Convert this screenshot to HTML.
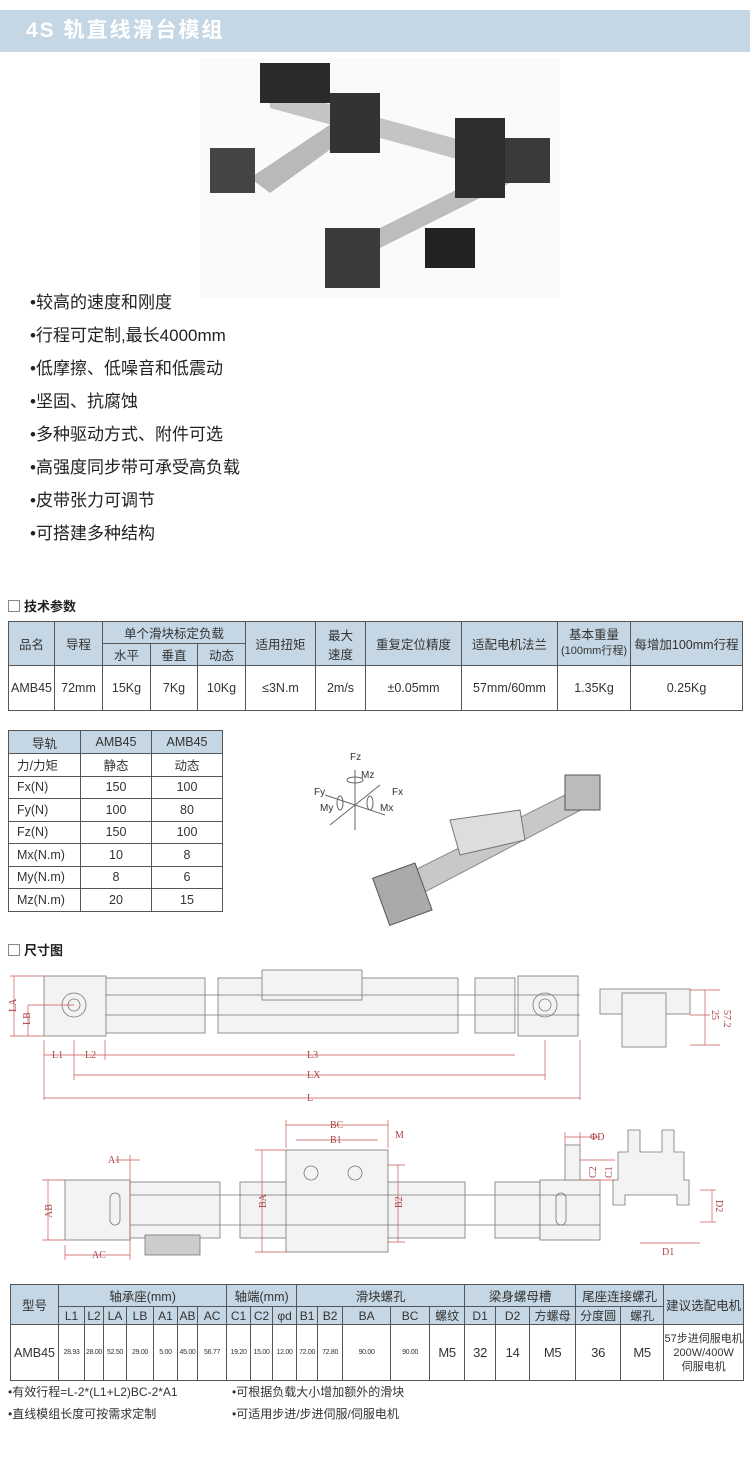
<!DOCTYPE html>
<html><head><meta charset="utf-8"><style>
*{margin:0;padding:0;box-sizing:border-box}
body{width:750px;height:1463px;background:#fff;position:relative;overflow:hidden;font-family:"Liberation Sans","Noto Sans CJK SC",sans-serif;color:#333}
.a{position:absolute}
.hdr{left:0;top:10px;width:750px;height:42px;background:#c5d7e4;color:#fff;font-weight:bold;font-size:21px;line-height:42px;padding-left:26px;letter-spacing:2px}
.bl{left:30px;font-size:17px;color:#222;line-height:20px}
.sec{left:8px;font-size:13px;font-weight:bold;color:#222}
.sec i{display:inline-block;width:12px;height:12px;border:1px solid #888;vertical-align:-1px;margin-right:4px}
table{border-collapse:collapse;position:absolute;table-layout:fixed;font-family:"Liberation Sans","Noto Sans CJK SC",sans-serif}
td{border:1px solid #555;text-align:center;color:#333;padding:0;white-space:nowrap;overflow:hidden}
.h td,td.h{background:#c5d7e4}
</style></head><body>
<div class="a hdr">4S 轨直线滑台模组</div>

<svg class="a" style="left:200px;top:58px" width="360" height="240">
<rect x="0" y="0" width="360" height="240" fill="#fafafa"/>
<polygon points="50,120 140,60 160,70 70,135" fill="#b9b9b9"/>
<polygon points="70,30 290,90 290,110 70,50" fill="#c4c4c4"/>
<polygon points="140,190 320,100 330,115 150,205" fill="#bdbdbd"/>
<rect x="60" y="5" width="70" height="40" fill="#2a2a2a"/>
<rect x="130" y="35" width="50" height="60" fill="#333"/>
<rect x="255" y="60" width="50" height="80" fill="#2e2e2e"/>
<rect x="305" y="80" width="45" height="45" fill="#3a3a3a"/>
<rect x="10" y="90" width="45" height="45" fill="#444"/>
<rect x="125" y="170" width="55" height="60" fill="#3a3a3a"/>
<rect x="225" y="170" width="50" height="40" fill="#222"/>
</svg>

<div class="a bl" style="top:293px">•较高的速度和刚度</div>
<div class="a bl" style="top:326px">•行程可定制,最长4000mm</div>
<div class="a bl" style="top:359px">•低摩擦、低噪音和低震动</div>
<div class="a bl" style="top:392px">•坚固、抗腐蚀</div>
<div class="a bl" style="top:425px">•多种驱动方式、附件可选</div>
<div class="a bl" style="top:458px">•高强度同步带可承受高负载</div>
<div class="a bl" style="top:491px">•皮带张力可调节</div>
<div class="a bl" style="top:524px">•可搭建多种结构</div>

<div class="a sec" style="top:596px"><i></i>技术参数</div>
<table style="left:8px;top:621px;width:734px;font-size:12.5px">
<colgroup><col width="46"><col width="48"><col width="48"><col width="47"><col width="48"><col width="70"><col width="50"><col width="96"><col width="96"><col width="73"><col width="112"></colgroup>
<tr class="h" style="height:22px"><td rowspan="2">品名</td><td rowspan="2">导程</td><td colspan="3">单个滑块标定负载</td><td rowspan="2">适用扭矩</td><td rowspan="2">最大<br>速度</td><td rowspan="2">重复定位精度</td><td rowspan="2">适配电机法兰</td><td rowspan="2" style="line-height:15px">基本重量<br><span style="font-size:11px">(100mm行程)</span></td><td rowspan="2">每增加100mm行程</td></tr>
<tr class="h" style="height:22px"><td>水平</td><td>垂直</td><td>动态</td></tr>
<tr style="height:45px"><td>AMB45</td><td>72mm</td><td>15Kg</td><td>7Kg</td><td>10Kg</td><td>≤3N.m</td><td>2m/s</td><td>±0.05mm</td><td>57mm/60mm</td><td>1.35Kg</td><td>0.25Kg</td></tr>
</table>

<table style="left:8px;top:730px;width:214px;font-size:12.5px">
<colgroup><col width="72"><col width="71"><col width="71"></colgroup>
<tr class="h" style="height:23px"><td>导轨</td><td>AMB45</td><td>AMB45</td></tr>
<tr style="height:22.5px"><td style="text-align:left;padding-left:8px">力/力矩</td><td>静态</td><td>动态</td></tr>
<tr style="height:22.5px"><td style="text-align:left;padding-left:8px">Fx(N)</td><td>150</td><td>100</td></tr>
<tr style="height:22.5px"><td style="text-align:left;padding-left:8px">Fy(N)</td><td>100</td><td>80</td></tr>
<tr style="height:22.5px"><td style="text-align:left;padding-left:8px">Fz(N)</td><td>150</td><td>100</td></tr>
<tr style="height:22.5px"><td style="text-align:left;padding-left:8px">Mx(N.m)</td><td>10</td><td>8</td></tr>
<tr style="height:22.5px"><td style="text-align:left;padding-left:8px">My(N.m)</td><td>8</td><td>6</td></tr>
<tr style="height:22.5px"><td style="text-align:left;padding-left:8px">Mz(N.m)</td><td>20</td><td>15</td></tr>
</table>

<svg class="a" style="left:300px;top:745px" width="320" height="190" font-family="Liberation Sans" font-size="10" fill="#333">
<g stroke="#666" fill="none"><line x1="55" y1="25" x2="55" y2="85"/><line x1="25" y1="50" x2="85" y2="70"/><line x1="30" y1="80" x2="80" y2="40"/><ellipse cx="55" cy="35" rx="8" ry="3"/><ellipse cx="40" cy="58" rx="3" ry="7"/><ellipse cx="70" cy="58" rx="3" ry="7"/></g>
<text x="50" y="15">Fz</text><text x="61" y="33">Mz</text><text x="14" y="50">Fy</text><text x="20" y="66">My</text><text x="92" y="50">Fx</text><text x="80" y="66">Mx</text>
<polygon points="85,140 285,40 300,55 100,160" fill="#c8c8c8" stroke="#888"/>
<polygon points="150,75 220,65 225,95 160,110" fill="#ddd" stroke="#777"/>
<rect x="80" y="125" width="45" height="50" fill="#aaa" stroke="#555" transform="rotate(-20 100 150)"/>
<rect x="265" y="30" width="35" height="35" fill="#bbb" stroke="#555"/>
</svg>

<div class="a sec" style="top:940px"><i></i>尺寸图</div>

<svg class="a" style="left:0;top:960px" width="750" height="300" font-family="Liberation Serif" font-size="10" fill="#a44">
<g fill="#f3f3f3" stroke="#777" stroke-width="0.8">
<rect x="105" y="18" width="100" height="55"/><rect x="218" y="18" width="240" height="55"/><rect x="475" y="18" width="40" height="55"/>
<rect x="262" y="10" width="100" height="30"/>
<rect x="44" y="16" width="62" height="60"/><rect x="518" y="16" width="60" height="60"/>
<rect x="600" y="29" width="90" height="25"/><rect x="622" y="33" width="44" height="54"/>
<rect x="130" y="222" width="90" height="56"/><rect x="240" y="222" width="225" height="56"/><rect x="495" y="222" width="45" height="56"/>
<rect x="65" y="220" width="65" height="60"/><rect x="540" y="220" width="60" height="60"/>
<rect x="286" y="190" width="102" height="102"/>
<rect x="565" y="185" width="15" height="35"/>
<path d="M628,170 h12 v22 h22 v-22 h12 v22 h10 v28 h5 v25 h-12 v-10 h-52 v10 h-12 v-25 h5 v-28 h10z"/>
<rect x="145" y="275" width="55" height="20" fill="#ccc"/>
</g>
<g stroke="#777" fill="none" stroke-width="0.8">
<circle cx="74" cy="45" r="12"/><circle cx="74" cy="45" r="6"/><circle cx="545" cy="45" r="12"/><circle cx="545" cy="45" r="6"/>
<line x1="105" y1="35" x2="580" y2="35"/><line x1="105" y1="55" x2="580" y2="55"/>
<line x1="130" y1="235" x2="600" y2="235"/><line x1="130" y1="265" x2="600" y2="265"/>
<circle cx="311" cy="213" r="7"/><circle cx="355" cy="213" r="7"/>
<rect x="110" y="233" width="10" height="32" rx="5"/><rect x="556" y="233" width="10" height="32" rx="5"/>
</g>
<g stroke="#c55" stroke-width="0.7" fill="none">
<line x1="10" y1="16" x2="44" y2="16"/><line x1="10" y1="76" x2="44" y2="76"/><line x1="14" y1="16" x2="14" y2="76"/><line x1="28" y1="45" x2="28" y2="76"/><line x1="28" y1="45" x2="74" y2="45"/>
<line x1="44" y1="80" x2="44" y2="140"/><line x1="74" y1="80" x2="74" y2="120"/><line x1="105" y1="80" x2="105" y2="100"/><line x1="580" y1="80" x2="580" y2="140"/><line x1="545" y1="80" x2="545" y2="120"/>
<line x1="44" y1="95" x2="105" y2="95"/><line x1="105" y1="95" x2="515" y2="95"/><line x1="74" y1="115" x2="545" y2="115"/><line x1="44" y1="138" x2="580" y2="138"/>
<line x1="690" y1="30" x2="720" y2="30"/><line x1="690" y1="85" x2="720" y2="85"/><line x1="705" y1="30" x2="705" y2="85"/><line x1="690" y1="55" x2="710" y2="55"/>
<line x1="42" y1="220" x2="65" y2="220"/><line x1="42" y1="280" x2="65" y2="280"/><line x1="48" y1="220" x2="48" y2="280"/>
<line x1="65" y1="285" x2="65" y2="300"/><line x1="65" y1="295" x2="130" y2="295"/><line x1="130" y1="195" x2="130" y2="300"/><line x1="115" y1="200" x2="140" y2="200"/>
<line x1="286" y1="160" x2="286" y2="188"/><line x1="388" y1="160" x2="388" y2="188"/><line x1="286" y1="165" x2="388" y2="165"/><line x1="296" y1="180" x2="378" y2="180"/>
<line x1="262" y1="190" x2="262" y2="292"/><line x1="255" y1="190" x2="286" y2="190"/><line x1="255" y1="292" x2="286" y2="292"/>
<line x1="398" y1="205" x2="398" y2="282"/><line x1="388" y1="205" x2="405" y2="205"/><line x1="388" y1="282" x2="405" y2="282"/>
<line x1="580" y1="172" x2="580" y2="185"/><line x1="565" y1="172" x2="565" y2="185"/><line x1="565" y1="177" x2="600" y2="177"/>
<line x1="580" y1="200" x2="615" y2="200"/><line x1="580" y1="220" x2="615" y2="220"/>
<line x1="640" y1="283" x2="700" y2="283"/><line x1="700" y1="230" x2="716" y2="230"/><line x1="700" y1="262" x2="716" y2="262"/><line x1="712" y1="230" x2="712" y2="262"/>
</g>
<text x="16" y="52" transform="rotate(-90 16 52)">LA</text><text x="30" y="65" transform="rotate(-90 30 65)">LB</text>
<text x="52" y="98">L1</text><text x="85" y="98">L2</text><text x="307" y="98">L3</text><text x="307" y="118">LX</text><text x="307" y="141">L</text>
<text x="712" y="50" transform="rotate(90 712 50)">25</text><text x="724" y="50" transform="rotate(90 724 50)">57.2</text>
<text x="108" y="203">A1</text><text x="52" y="258" transform="rotate(-90 52 258)">AB</text><text x="92" y="298">AC</text>
<text x="330" y="168">BC</text><text x="330" y="183">B1</text><text x="395" y="178">M</text>
<text x="266" y="248" transform="rotate(-90 266 248)">BA</text><text x="402" y="248" transform="rotate(-90 402 248)">B2</text>
<text x="590" y="180">ΦD</text><text x="596" y="218" transform="rotate(-90 596 218)">C2</text><text x="612" y="218" transform="rotate(-90 612 218)">C1</text>
<text x="662" y="295">D1</text><text x="716" y="240" transform="rotate(90 716 240)">D2</text>
</svg>

<table style="left:10px;top:1284px;width:733px;font-size:12.5px">
<colgroup><col width="48"><col width="26"><col width="19"><col width="23"><col width="27"><col width="24"><col width="20"><col width="29"><col width="24"><col width="22"><col width="24"><col width="21"><col width="25"><col width="48"><col width="39"><col width="35"><col width="31"><col width="34"><col width="46"><col width="45"><col width="43"><col width="80"></colgroup>
<tr class="h" style="height:22px"><td rowspan="2">型号</td><td colspan="7">轴承座(mm)</td><td colspan="3">轴端(mm)</td><td colspan="5">滑块螺孔</td><td colspan="3">梁身螺母槽</td><td colspan="2">尾座连接螺孔</td><td rowspan="2">建议选配电机</td></tr>
<tr class="h" style="height:18px;font-size:12px"><td>L1</td><td>L2</td><td>LA</td><td>LB</td><td>A1</td><td>AB</td><td>AC</td><td>C1</td><td>C2</td><td>φd</td><td>B1</td><td>B2</td><td>BA</td><td>BC</td><td>螺纹</td><td>D1</td><td>D2</td><td>方螺母</td><td>分度圆</td><td>螺孔</td></tr>
<tr style="height:56px;font-size:7px;letter-spacing:-0.3px"><td style="font-size:12.5px;letter-spacing:0">AMB45</td><td>28.93</td><td>28.00</td><td>52.50</td><td>29.00</td><td>5.00</td><td>45.00</td><td>56.77</td><td>19.20</td><td>15.00</td><td>12.00</td><td>72.00</td><td>72.80</td><td>90.00</td><td>90.00</td><td style="font-size:13px">M5</td><td style="font-size:13px">32</td><td style="font-size:13px">14</td><td style="font-size:13px">M5</td><td style="font-size:13px">36</td><td style="font-size:13px">M5</td><td style="font-size:11px;line-height:14px;letter-spacing:0">57步进伺服电机<br>200W/400W<br>伺服电机</td></tr>
</table>

<div class="a" style="left:8px;top:1383px;font-size:12px;color:#333">•有效行程=L-2*(L1+L2)BC-2*A1</div>
<div class="a" style="left:232px;top:1383px;font-size:12px;color:#333">•可根据负载大小增加额外的滑块</div>
<div class="a" style="left:8px;top:1405px;font-size:12px;color:#333">•直线模组长度可按需求定制</div>
<div class="a" style="left:232px;top:1405px;font-size:12px;color:#333">•可适用步进/步进伺服/伺服电机</div>
</body></html>
